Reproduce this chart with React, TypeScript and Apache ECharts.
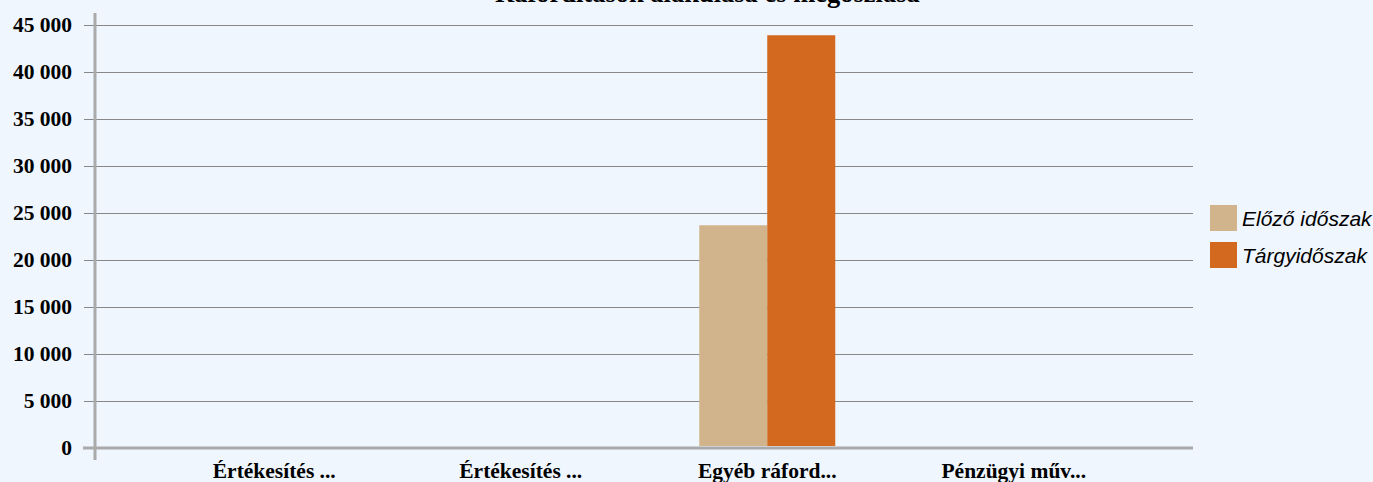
import React, { useEffect, useRef } from "react";
import * as echarts from "echarts";

const titleText = "Ráfordítások alakulása és megoszlása";
const categories = ["Értékesítés ...", "Értékesítés ...", "Egyéb ráford...", "Pénzügyi műv..."];
const seriesNames = ["Előző időszak", "Tárgyidőszak"];
const previousValues = [0, 0, 23600, 0];
const currentValues = [0, 0, 43900, 0];
const yMin = 0;
const yMax = 45000;
const yInterval = 5000;

const serif = "'Liberation Serif', 'Times New Roman', serif";
const sans = "'Liberation Sans', Arial, sans-serif";

export default function App() {
  const ref = useRef<HTMLDivElement>(null);
  useEffect(() => {
    if (!ref.current) return;
    const chart = echarts.init(ref.current, null, { renderer: "svg" });
    const fmt = (v: number) => String(v).replace(/\B(?=(\d{3})+(?!\d))/g, " ");
    chart.setOption({
      animation: false,
      backgroundColor: "#eff6fe",
      title: {
        text: titleText,
        left: 490,
        top: -26,
        padding: 5,
        textStyle: { fontFamily: serif, fontWeight: "bold", fontSize: 26.5, color: "#000" },
      },
      legend: {
        orient: "vertical",
        left: 1210,
        top: 205,
        padding: 0,
        itemWidth: 27,
        itemHeight: 26,
        itemGap: 11,
        data: seriesNames,
        icon: "rect",
        textStyle: { fontFamily: sans, fontStyle: "italic", fontSize: 21, color: "#000" },
      },
      grid: [
        { left: 95, right: 180, top: 25, bottom: 34 },
        { left: 151, right: 236, top: 25, bottom: 34 },
      ],
      xAxis: [
        {
          type: "category",
          gridIndex: 0,
          data: categories,
          axisLine: { show: false },
          axisTick: { show: false },
          axisLabel: { show: false },
        },
        {
          type: "category",
          gridIndex: 1,
          data: categories,
          axisLine: { show: false },
          axisTick: { show: false },
          axisLabel: {
            margin: 14,
            fontFamily: serif,
            fontWeight: "bold",
            fontSize: 21.5,
            color: "#000",
            interval: 0,
          },
        },
      ],
      yAxis: [
        {
          type: "value",
          gridIndex: 0,
          min: yMin,
          max: yMax,
          interval: yInterval,
          axisLine: { show: false },
          axisTick: { show: true, length: 11, lineStyle: { color: "#888", width: 1 } },
          splitLine: { show: true, lineStyle: { color: "#888", width: 1 } },
          axisLabel: {
            margin: 23,
            fontFamily: serif,
            fontWeight: "bold",
            fontSize: 21.5,
            color: "#000",
            formatter: fmt,
          },
        },
        {
          type: "value",
          gridIndex: 1,
          min: yMin,
          max: yMax,
          interval: yInterval,
          show: false,
          splitLine: { show: false },
        },
      ],
      series: [
        {
          name: seriesNames[0],
          type: "bar",
          xAxisIndex: 1,
          yAxisIndex: 1,
          data: previousValues,
          barWidth: 68,
          barGap: "0%",
          itemStyle: { color: "#D2B48C" },
        },
        {
          name: seriesNames[1],
          type: "bar",
          xAxisIndex: 1,
          yAxisIndex: 1,
          data: currentValues,
          barWidth: 68,
          barGap: "0%",
          itemStyle: { color: "#D2691E" },
        },
      ],
      graphic: [
        {
          type: "line",
          z: 100,
          shape: { x1: 95, y1: 13, x2: 95, y2: 460 },
          style: { stroke: "#aaa", lineWidth: 3 },
        },
        {
          type: "line",
          z: 100,
          shape: { x1: 83, y1: 448, x2: 1193, y2: 448 },
          style: { stroke: "#aaa", lineWidth: 3 },
        },
      ],
    });
    return () => chart.dispose();
  }, []);
  return (
    <div
      ref={ref}
      style={{ position: "fixed", left: 0, top: 0, width: 1373, height: 482 }}
    />
  );
}
